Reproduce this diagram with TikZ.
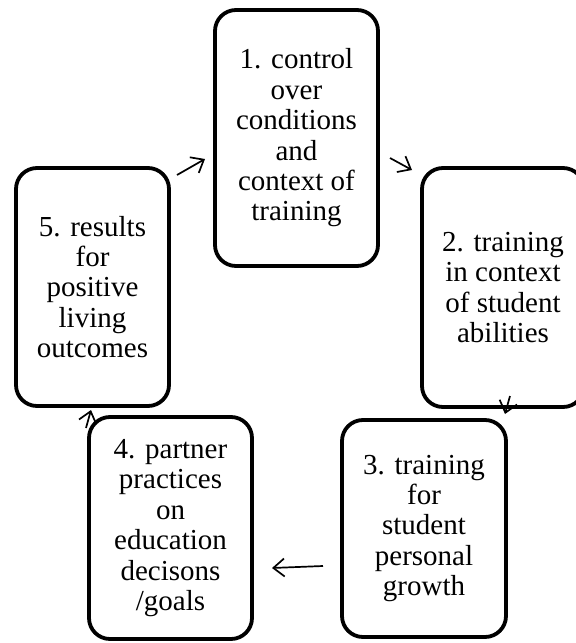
\documentclass[tikz,border=0pt]{standalone}
\usepackage{fontspec}
\setmainfont{Liberation Serif}
\usepackage{tikz}
\usetikzlibrary{arrows.meta}
\colorlet{stepLine}{black}
\colorlet{cycleArrow}{black}

\begin{document}
\begin{tikzpicture}[
  x=1pt,
  y=-1pt,
  every stage box/.style={
    draw=stepLine,
    line width=3.8pt,
    rounded corners=21pt,
    align=center,
    inner sep=0pt,
    font=\fontsize{29}{30.4}\selectfont,
  },
  stage box/.style={
    every stage box,
  },
  cycle arrow/.style={
    draw=cycleArrow,
    line width=1.7pt,
    -{Straight Barb[length=11pt,width=18pt,line width=1.7pt]},
  },
]
\useasboundingbox (0,0) rectangle (576,643);
\node[stage box,minimum width=163pt,minimum height=256pt] (stepA) at (296.5,138)
  {1. control\\over\\conditions\\and\\context of\\training};
\node[stage box,minimum width=162pt,minimum height=239pt] (stepB) at (503,287.5)
  {2. training\\in context\\of student\\abilities};
\node[stage box,minimum width=164pt,minimum height=217pt] (stepC) at (424,528.5)
  {3. training\\for\\student\\personal\\growth};
\node[stage box,minimum width=163pt,minimum height=222pt] (stepD) at (170.5,528)
  {4. partner\\practices\\on\\education\\decisons\\/goals};
\node[stage box,minimum width=153pt,minimum height=238pt] (stepE) at (92.5,287)
  {5. results\\for\\positive\\living\\outcomes};
\coordinate (fromE) at (177,175);
\coordinate (toA) at (205,159);
\coordinate (fromA) at (390,158);
\coordinate (toB) at (412,170);
\coordinate (fromB) at (510,396);
\coordinate (toC) at (505,414);
\coordinate (fromC) at (323,566);
\coordinate (toD) at (272,568);
\coordinate (fromD) at (86,428);
\coordinate (toE) at (91,410);
\draw[cycle arrow] (fromE) -- (toA);
\draw[cycle arrow] (fromA) -- (toB);
\draw[cycle arrow] (fromB) -- (toC);
\draw[cycle arrow] (fromC) -- (toD);
\draw[cycle arrow] (fromD) -- (toE);
\end{tikzpicture}
\end{document}
